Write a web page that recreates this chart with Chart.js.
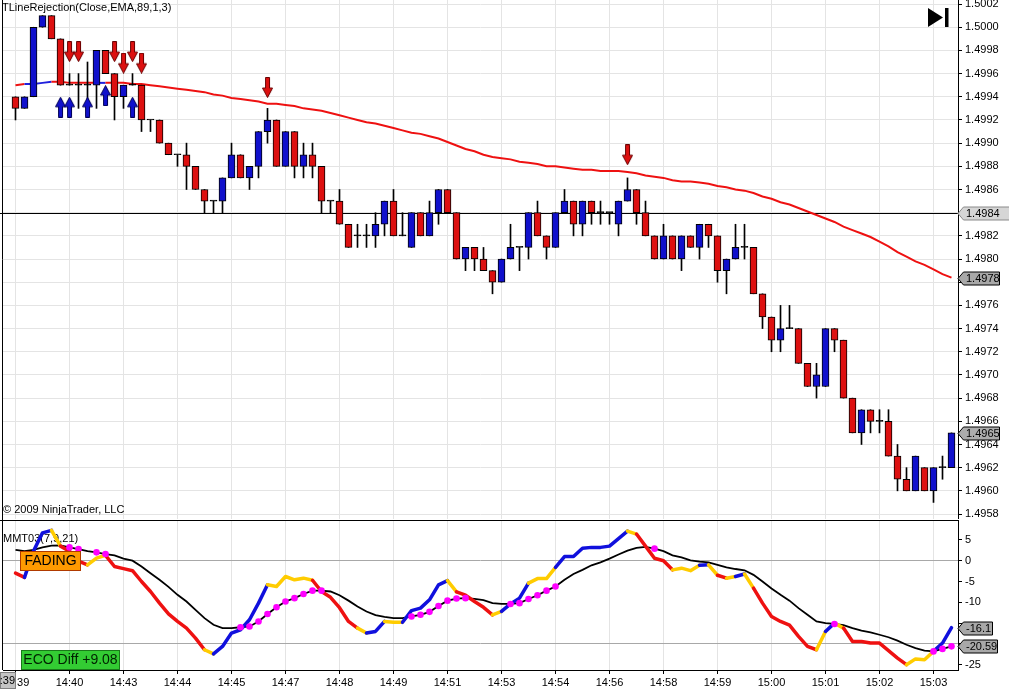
<!DOCTYPE html>
<html>
<head>
<meta charset="utf-8">
<title>TLineRejection / MMT03</title>
<script src="https://cdn.jsdelivr.net/npm/chart.js@4.4.1/dist/chart.umd.min.js"></script>
<style>
    html, body { margin: 0; padding: 0; background: #fff; }
    body { width: 1009px; height: 691px; position: relative; overflow: hidden; }
    #priceBox { position: absolute; left: 0; top: 0; width: 1009px; height: 519px; }
    #mmtBox { position: absolute; left: 0; top: 519px; width: 1009px; height: 172px; }
</style>
</head>
<body>
<div id="priceBox"><canvas id="priceChart"></canvas></div>
<div id="mmtBox"><canvas id="mmtChart"></canvas></div>
<script>
// ---- 價格數據 (每根 K 線) ----
const barOpen = [
    1.4994,1.4993,1.4994,1.5000,1.5001,1.4999,1.4995,1.4995,1.4995,1.4995,
    1.4998,1.4996,1.4994,1.4995,1.4995,1.4992,1.4992,1.4990,1.4989,1.4989,
    1.4988,1.4986,1.4985,1.4985,1.4987,1.4989,1.4987,1.4988,1.4991,1.4992,
    1.4988,1.4991,1.4988,1.4989,1.4988,1.4985,1.4985,1.4983,1.4982,1.4982,
    1.4982,1.4983,1.4985,1.4982,1.4981,1.4984,1.4982,1.4984,1.4986,1.4984,
    1.4980,1.4981,1.4980,1.4979,1.4978,1.4980,1.4981,1.4981,1.4984,1.4982,
    1.4981,1.4984,1.4985,1.4983,1.4985,1.4984,1.4984,1.4983,1.4985,1.4986,
    1.4984,1.4982,1.4980,1.4982,1.4980,1.4982,1.4981,1.4983,1.4982,1.4979,
    1.4980,1.4981,1.4981,1.4977,1.4975,1.4973,1.4974,1.4974,1.4971,1.4969,
    1.4969,1.4974,1.4973,1.4968,1.4965,1.4967,1.4966,1.4966,1.4963,1.4961,
    1.4960,1.4962,1.4960,1.4962,1.4962
];
const barHigh = [
    1.4994,1.4994,1.5000,1.5001,1.5001,1.4999,1.4996,1.4996,1.4997,1.4998,
    1.4998,1.4996,1.4995,1.4996,1.4995,1.4992,1.4992,1.4990,1.4989,1.4990,
    1.4988,1.4986,1.4985,1.4987,1.4990,1.4989,1.4988,1.4991,1.4993,1.4992,
    1.4991,1.4991,1.4990,1.4990,1.4988,1.4985,1.4986,1.4983,1.4983,1.4983,
    1.4984,1.4985,1.4986,1.4984,1.4984,1.4984,1.4985,1.4986,1.4986,1.4984,
    1.4981,1.4981,1.4981,1.4979,1.4980,1.4983,1.4981,1.4984,1.4985,1.4982,
    1.4984,1.4986,1.4985,1.4985,1.4985,1.4985,1.4984,1.4985,1.4987,1.4986,
    1.4985,1.4982,1.4983,1.4982,1.4982,1.4982,1.4983,1.4983,1.4982,1.4980,
    1.4983,1.4983,1.4981,1.4977,1.4975,1.4976,1.4976,1.4974,1.4971,1.4971,
    1.4974,1.4974,1.4973,1.4968,1.4967,1.4967,1.4967,1.4967,1.4964,1.4962,
    1.4963,1.4962,1.4962,1.4963,1.4965
];
const barLow = [
    1.4992,1.4993,1.4994,1.5000,1.4999,1.4995,1.4995,1.4993,1.4993,1.4993,
    1.4996,1.4992,1.4993,1.4995,1.4991,1.4991,1.4990,1.4989,1.4988,1.4986,
    1.4986,1.4984,1.4984,1.4984,1.4987,1.4987,1.4986,1.4987,1.4990,1.4988,
    1.4988,1.4987,1.4987,1.4987,1.4984,1.4984,1.4983,1.4981,1.4981,1.4981,
    1.4981,1.4982,1.4982,1.4982,1.4981,1.4982,1.4982,1.4983,1.4984,1.4980,
    1.4979,1.4979,1.4979,1.4977,1.4978,1.4980,1.4979,1.4980,1.4982,1.4980,
    1.4981,1.4984,1.4982,1.4982,1.4983,1.4983,1.4983,1.4982,1.4985,1.4983,
    1.4982,1.4980,1.4980,1.4980,1.4979,1.4981,1.4980,1.4981,1.4978,1.4977,
    1.4980,1.4980,1.4977,1.4974,1.4972,1.4972,1.4974,1.4971,1.4969,1.4968,
    1.4969,1.4972,1.4968,1.4965,1.4964,1.4965,1.4965,1.4963,1.4960,1.4960,
    1.4960,1.4960,1.4959,1.4961,1.4962
];
const barClose = [
    1.4993,1.4994,1.5000,1.5001,1.4999,1.4995,1.4995,1.4995,1.4995,1.4998,
    1.4996,1.4994,1.4995,1.4995,1.4992,1.4992,1.4990,1.4989,1.4989,1.4988,
    1.4986,1.4985,1.4985,1.4987,1.4989,1.4987,1.4988,1.4991,1.4992,1.4988,
    1.4991,1.4988,1.4989,1.4988,1.4985,1.4985,1.4983,1.4981,1.4982,1.4982,
    1.4983,1.4985,1.4982,1.4982,1.4984,1.4982,1.4984,1.4986,1.4984,1.4980,
    1.4981,1.4980,1.4979,1.4978,1.4980,1.4981,1.4981,1.4984,1.4982,1.4981,
    1.4984,1.4985,1.4983,1.4985,1.4984,1.4984,1.4984,1.4985,1.4986,1.4984,
    1.4982,1.4980,1.4982,1.4980,1.4982,1.4981,1.4983,1.4982,1.4979,1.4980,
    1.4981,1.4981,1.4977,1.4975,1.4973,1.4974,1.4974,1.4971,1.4969,1.4970,
    1.4974,1.4973,1.4968,1.4965,1.4967,1.4966,1.4966,1.4963,1.4961,1.4960,
    1.4963,1.4960,1.4962,1.4962,1.4965
];

// EMA(89) 曲線與顏色 (藍色段的索引)
const emaValues = [
    1.49950,1.49951,1.49951,1.49952,1.49953,1.49953,1.49952,1.49952,1.49952,1.49952,
    1.49952,1.49952,1.49952,1.49951,1.49951,1.49950,1.49949,1.49948,1.49947,1.49946,
    1.49945,1.49944,1.49942,1.49941,1.49939,1.49938,1.49937,1.49936,1.49934,1.49934,
    1.49933,1.49932,1.49930,1.49929,1.49928,1.49926,1.49924,1.49922,1.49920,1.49918,
    1.49917,1.49915,1.49913,1.49911,1.49909,1.49908,1.49906,1.49904,1.49901,1.49898,
    1.49895,1.49893,1.49890,1.49888,1.49887,1.49886,1.49884,1.49883,1.49882,1.49880,
    1.49880,1.49879,1.49878,1.49877,1.49877,1.49876,1.49876,1.49876,1.49875,1.49874,
    1.49872,1.49871,1.49870,1.49868,1.49867,1.49867,1.49866,1.49865,1.49863,1.49862,
    1.49860,1.49859,1.49857,1.49854,1.49852,1.49849,1.49847,1.49844,1.49841,1.49838,
    1.49835,1.49832,1.49828,1.49825,1.49822,1.49819,1.49815,1.49811,1.49806,1.49802,
    1.49798,1.49795,1.49791,1.49787,1.49784
];
const emaBlueIdx = [2, 3, 4, 10];

// 訊號箭頭 (K 線索引 + 箭頭中心價位)
const downArrowIdx = [6, 7, 11, 12, 13, 14, 28, 68];
const downArrowPrice = [1.49979, 1.49979, 1.49979, 1.49969, 1.49979, 1.49969, 1.49948, 1.49890];
const upArrowIdx = [5, 6, 8, 10, 13];
const upArrowPrice = [1.49931, 1.49931, 1.49931, 1.49941, 1.49931];

const hLinePrice = 1.4984;
const priceTicks = [
    1.5002,1.5000,1.4998,1.4996,1.4994,1.4992,1.4990,1.4988,1.4986,1.4984,1.4982,1.4980,
    1.4978,1.4976,1.4974,1.4972,1.4970,1.4968,1.4966,1.4964,1.4962,1.4960,1.4958
];

// ---- MMT03(7,9,21) 副圖 ----
const mmtValues = [
    -3.0,-4.0,2.3,6.7,7.3,3.5,2.3,-0.1,-1.0,0.6,
    1.3,-1.4,-1.9,-2.4,-5.0,-7.4,-10.2,-12.8,-14.6,-16.2,
    -18.6,-21.4,-22.4,-20.6,-17.4,-16.6,-14.2,-10.2,-5.8,-6.2,
    -3.8,-4.6,-4.2,-4.7,-7.4,-8.8,-11.3,-14.6,-16.2,-17.4,
    -17.0,-14.6,-14.8,-14.8,-12.0,-11.4,-9.4,-5.8,-4.8,-7.5,
    -8.3,-9.8,-11.2,-13.0,-12.2,-10.4,-9.0,-5.4,-4.3,-4.3,
    -1.6,1.0,1.0,3.0,3.2,3.2,3.5,5.3,7.1,6.4,
    3.5,0.6,0.0,-2.2,-1.8,-2.4,-1.1,-1.0,-3.5,-4.2,
    -3.8,-3.2,-6.6,-10.2,-13.4,-14.6,-15.5,-18.2,-20.6,-21.4,
    -17.0,-15.0,-16.2,-19.4,-19.4,-19.8,-19.8,-21.6,-23.4,-25.0,
    -23.6,-23.8,-21.8,-19.8,-16.1
];
// 每段線段終點的顏色: r 紅 / b 藍 / y 黃
const mmtColorCodes =
    'rrbbbyrrryyrrrrrrrrrrrybbbbbbyyyyyrrrrrybbyybbbbbyrrrryb' +
    'bbyyybbbbbbbbyrrrryyybyryby' + 'rrrrrrrybyrrrrrrryyybb';
const signalValues = [
    2.6,2.3,2.6,3.2,3.6,3.7,3.2,2.8,2.3,2.0,
    1.6,1.3,0.5,0.0,-1.4,-3.0,-4.6,-6.3,-8.2,-9.8,
    -11.8,-13.8,-15.4,-16.2,-16.2,-16.0,-15.8,-14.6,-12.8,-11.2,
    -9.8,-9.0,-8.0,-7.2,-7.2,-7.4,-8.3,-9.6,-11.0,-12.2,
    -13.1,-13.5,-13.8,-13.8,-13.4,-13.0,-12.3,-10.9,-9.6,-9.1,
    -9.0,-9.2,-9.5,-10.2,-10.4,-10.4,-10.2,-9.2,-8.3,-7.2,
    -6.2,-4.6,-3.2,-2.2,-1.1,-0.4,0.5,1.5,2.4,3.1,
    3.3,2.9,2.3,1.3,0.8,0.1,-0.2,-0.4,-1.0,-1.6,
    -2.0,-2.3,-3.4,-5.0,-6.7,-8.2,-9.6,-11.4,-13.0,-14.6,
    -15.0,-15.2,-15.5,-16.2,-16.8,-17.2,-17.8,-18.4,-19.2,-20.2,
    -21.0,-21.6,-21.8,-21.2,-20.59
];
const dotIdx = [6,7,9,10,25,26,27,28,29,30,31,32,33,34,44,45,46,47,48,49,50,55,56,57,58,59,60,71,91,102,103,104];
const mmtTicks = [5, 0, -5, -10, -15, -20, -25];
const mmtHiddenTicks = [-15, -20];   // 被右側標籤蓋住
const mmtGridValues = [0, -20];

// 時間軸
const timeTickIdx = [0,6,12,18,24,30,36,42,48,54,60,66,72,78,84,90,96,102];
const timeTickText = ['14:39','14:40','14:43','14:44','14:45','14:47','14:48','14:49','14:51',
                      '14:53','14:54','14:56','14:58','14:59','15:00','15:01','15:02','15:03'];

// ---- 版面常數 ----
const X_MIN = -1.3889, X_MAX = 104.7222;
const PRICE_MAX = 1.500235, PRICE_MIN = 1.495757;
const MMT_MAX = 9.78, MMT_MIN = -26.27;
const FONT = '"Liberation Sans", Arial, sans-serif';
const RED = '#dd1010', BLUE = '#1010cc', YELLOW = '#ffcc00';

Chart.defaults.font.family = FONT;
Chart.defaults.font.size = 11;
Chart.defaults.color = '#000';

const mmtColorMap = { r: '#ee1111', b: '#1010dd', y: YELLOW };

// 不讓刻度文字把繪圖區往內推
function noScalePadding(s) {
    s.paddingTop = 0; s.paddingBottom = 0; s.paddingLeft = 0; s.paddingRight = 0;
}

// 箭頭圖示 (畫在離屏 canvas 上)
function makeArrow(fill, edge, up) {
    const c = document.createElement('canvas');
    c.width = 11; c.height = 21;
    const g = c.getContext('2d');
    const pts = [[3.5,0.5],[7.5,0.5],[7.5,11],[10.5,11],[5.5,20.5],[0.5,11],[3.5,11]];
    g.beginPath();
    pts.forEach((p, k) => {
        const y = up ? 21 - p[1] : p[1];
        if (k === 0) g.moveTo(p[0], y); else g.lineTo(p[0], y);
    });
    g.closePath();
    g.fillStyle = fill; g.fill();
    g.strokeStyle = edge; g.lineWidth = 1; g.stroke();
    return c;
}
const arrowDownImg = makeArrow(RED, '#6a0000', false);
const arrowUpImg = makeArrow(BLUE, '#000055', true);

function drawTag(ctx, x, y, text, fill, stroke, right) {
    ctx.save();
    ctx.beginPath();
    ctx.moveTo(x, y);
    ctx.lineTo(x + 5.5, y - 6.5);
    ctx.lineTo(right, y - 6.5);
    ctx.lineTo(right, y + 6.5);
    ctx.lineTo(x + 5.5, y + 6.5);
    ctx.closePath();
    ctx.fillStyle = fill; ctx.fill();
    ctx.strokeStyle = stroke; ctx.lineWidth = 1; ctx.stroke();
    ctx.fillStyle = '#000';
    ctx.font = '11px ' + FONT;
    ctx.textBaseline = 'middle';
    ctx.textAlign = 'left';
    ctx.fillText(text, x + 8, y + 0.5);
    ctx.restore();
}

// 主圖裝飾: 水平線、價格標籤、標題
const priceDeco = {
    id: 'priceDeco',
    beforeDatasetsDraw(chart) {
        const { ctx, chartArea, scales: { y } } = chart;
        const yy = Math.round(y.getPixelForValue(hLinePrice)) + 0.5;
        ctx.save();
        ctx.strokeStyle = '#000';
        ctx.lineWidth = 1;
        ctx.beginPath();
        ctx.moveTo(0, yy);
        ctx.lineTo(chartArea.right, yy);
        ctx.stroke();
        ctx.restore();
    },
    afterDraw(chart) {
        const { ctx, chartArea, scales: { y } } = chart;
        const R = chartArea.right;
        ctx.save();
        // 左邊框
        ctx.strokeStyle = '#000';
        ctx.beginPath(); ctx.moveTo(2.5, 0); ctx.lineTo(2.5, chart.height); ctx.stroke();

        ctx.fillStyle = '#000';
        ctx.font = '11px ' + FONT;
        ctx.textBaseline = 'middle';
        ctx.fillText('TLineRejection(Close,EMA,89,1,3)', 2, 8);
        ctx.fillText('\u00a9 2009 NinjaTrader, LLC', 3, 510);

        // ▶| 圖示
        ctx.beginPath();
        ctx.moveTo(928, 8); ctx.lineTo(943, 17.5); ctx.lineTo(928, 27); ctx.closePath();
        ctx.fill();
        ctx.fillRect(945, 8, 3.5, 19);
        ctx.restore();

        const last = barClose.length - 1;
        drawTag(ctx, R, Math.round(y.getPixelForValue(hLinePrice)) + 0.5, hLinePrice.toFixed(4), '#d6d6d6', '#8a8a8a', 1012);
        drawTag(ctx, R, Math.round(y.getPixelForValue(emaValues[last])) + 0.5, emaValues[last].toFixed(4), '#a8a8a8', '#000', 999.5);
        drawTag(ctx, R, Math.round(y.getPixelForValue(barClose[last])) + 0.5, barClose[last].toFixed(4), '#acacac', '#000', 999.5);
    }
};

const bodyColors = barOpen.map((o, i) => barClose[i] > o ? BLUE : (barClose[i] < o ? RED : '#000'));
const emaColors = emaValues.map((_, i) => emaBlueIdx.includes(i) ? '#2020dd' : '#ee1111');

new Chart(document.getElementById('priceChart'), {
    type: 'bar',
    data: {
        datasets: [
            {
                type: 'scatter',
                data: downArrowIdx.map((x, k) => ({ x, y: downArrowPrice[k] })),
                pointStyle: arrowDownImg,
                order: 0
            },
            {
                type: 'scatter',
                data: upArrowIdx.map((x, k) => ({ x, y: upArrowPrice[k] })),
                pointStyle: arrowUpImg,
                order: 0
            },
            {
                data: barOpen.map((o, i) => ({ x: i, y: [o, barClose[i]] })),
                backgroundColor: bodyColors,
                borderColor: '#000',
                borderWidth: 1,
                borderSkipped: false,
                barThickness: 7,
                minBarLength: 1,
                grouped: false,
                order: 1
            },
            {
                data: barLow.map((l, i) => ({ x: i, y: [l, barHigh[i]] })),
                backgroundColor: '#000',
                borderWidth: 0,
                barThickness: 1,
                grouped: false,
                order: 2
            },
            {
                type: 'line',
                data: emaValues.map((v, i) => ({ x: i, y: v })),
                borderWidth: 2,
                pointRadius: 0,
                tension: 0,
                borderColor: '#ee1111',
                segment: { borderColor: c => emaColors[c.p1DataIndex] },
                order: 3
            }
        ]
    },
    options: {
        responsive: true,
        maintainAspectRatio: false,
        animation: false,
        layout: { autoPadding: false, padding: { left: 3, top: 0, right: 0, bottom: 0 } },
        plugins: { legend: { display: false }, tooltip: { enabled: false } },
        scales: {
            x: {
                type: 'linear',
                min: X_MIN, max: X_MAX,
                offset: false,
                afterBuildTicks: s => { s.ticks = timeTickIdx.map(v => ({ value: v })); },
                afterFit: s => { s.height = 0; noScalePadding(s); },
                ticks: { display: false },
                grid: { color: '#e4e4e4', drawTicks: false, offset: false },
                border: { display: false }
            },
            y: {
                position: 'right',
                min: PRICE_MIN, max: PRICE_MAX,
                afterBuildTicks: s => { s.ticks = priceTicks.map(v => ({ value: v })); },
                afterFit: s => { s.width = 51; noScalePadding(s); },
                ticks: { callback: v => v.toFixed(4), padding: 3, autoSkip: false },
                grid: { color: '#e4e4e4', tickColor: '#000', tickLength: 4 },
                border: { color: '#000' }
            }
        }
    },
    plugins: [priceDeco]
});

// 副圖裝飾
const mmtDeco = {
    id: 'mmtDeco',
    beforeDatasetsDraw(chart) {
        const { ctx } = chart;
        ctx.save();
        ctx.fillStyle = '#000';
        ctx.font = '11px ' + FONT;
        ctx.textBaseline = 'middle';
        ctx.fillText('MMT03(7,9,21)', 3, 20);
        ctx.restore();
    },
    afterDraw(chart) {
        const { ctx, chartArea, scales: { y } } = chart;
        const R = chartArea.right;
        ctx.save();
        ctx.strokeStyle = '#000';
        ctx.lineWidth = 1;
        ctx.beginPath(); ctx.moveTo(0, 1.5); ctx.lineTo(R, 1.5); ctx.stroke();
        ctx.beginPath(); ctx.moveTo(2.5, 0); ctx.lineTo(2.5, chartArea.bottom); ctx.stroke();

        // FADING
        ctx.fillStyle = '#ff9a00';
        ctx.fillRect(20.5, 32.5, 60, 19);
        ctx.strokeStyle = '#b03a00';
        ctx.strokeRect(20.5, 32.5, 60, 19);
        ctx.fillStyle = '#000';
        ctx.font = '14px ' + FONT;
        ctx.textAlign = 'center';
        ctx.textBaseline = 'middle';
        ctx.fillText('FADING', 50.5, 42.5);

        // ECO Diff
        ctx.fillStyle = '#33cc33';
        ctx.fillRect(21.5, 131.5, 98, 19);
        ctx.strokeStyle = '#1a7a1a';
        ctx.strokeRect(21.5, 131.5, 98, 19);
        ctx.fillStyle = '#002200';
        ctx.fillText('ECO Diff +9.08', 70.5, 141.5);

        // 時間游標框
        ctx.fillStyle = '#c4c4c4';
        ctx.fillRect(0, 153, 16, 17);
        ctx.strokeStyle = '#808080';
        ctx.strokeRect(0.5, 153.5, 15, 16);
        ctx.fillStyle = '#000';
        ctx.font = '11px ' + FONT;
        ctx.textAlign = 'right';
        ctx.fillText(':39', 15, 162);
        ctx.restore();

        const last = mmtValues.length - 1;
        drawTag(ctx, R, Math.round(y.getPixelForValue(mmtValues[last])) + 0.5, String(mmtValues[last]), '#a8a8a8', '#000', 992.5);
        drawTag(ctx, R, Math.round(y.getPixelForValue(signalValues[last])) + 0.5, String(signalValues[last]), '#a8a8a8', '#000', 997.5);
    }
};

new Chart(document.getElementById('mmtChart'), {
    type: 'line',
    data: {
        datasets: [
            {
                data: dotIdx.map(i => ({ x: i, y: signalValues[i] })),
                showLine: false,
                pointRadius: 3.3,
                pointBackgroundColor: '#ff00ff',
                pointBorderWidth: 0,
                order: 0
            },
            {
                data: mmtValues.map((v, i) => ({ x: i, y: v })),
                borderWidth: 3.5,
                borderColor: '#ee1111',
                borderJoinStyle: 'round',
                borderCapStyle: 'round',
                pointRadius: 0,
                tension: 0,
                segment: { borderColor: c => mmtColorMap[mmtColorCodes[c.p1DataIndex]] },
                order: 1
            },
            {
                data: signalValues.map((v, i) => ({ x: i, y: v })),
                borderWidth: 1.8,
                borderColor: '#000',
                pointRadius: 0,
                tension: 0,
                order: 2
            }
        ]
    },
    options: {
        responsive: true,
        maintainAspectRatio: false,
        animation: false,
        layout: { autoPadding: false, padding: { left: 3, top: 1, right: 0, bottom: 0 } },
        plugins: { legend: { display: false }, tooltip: { enabled: false } },
        scales: {
            x: {
                type: 'linear',
                min: X_MIN, max: X_MAX,
                offset: false,
                afterBuildTicks: s => { s.ticks = timeTickIdx.map(v => ({ value: v })); },
                afterFit: s => { s.height = 21; noScalePadding(s); },
                ticks: { callback: (v, i) => timeTickText[i], autoSkip: false, maxRotation: 0, padding: 2 },
                grid: { color: '#e4e4e4', tickColor: '#000', tickLength: 4, offset: false },
                border: { color: '#000' }
            },
            y: {
                position: 'right',
                min: MMT_MIN, max: MMT_MAX,
                afterBuildTicks: s => { s.ticks = mmtTicks.map(v => ({ value: v })); },
                afterFit: s => { s.width = 51; noScalePadding(s); },
                ticks: {
                    padding: 3,
                    autoSkip: false,
                    callback: v => mmtHiddenTicks.includes(v) ? '' : String(v)
                },
                grid: {
                    color: c => mmtGridValues.includes(c.tick.value) ? '#a8a8a8' : 'rgba(0,0,0,0)',
                    tickColor: '#000',
                    tickLength: 4
                },
                border: { color: '#000' }
            }
        }
    },
    plugins: [mmtDeco]
});
</script>
</body>
</html>
